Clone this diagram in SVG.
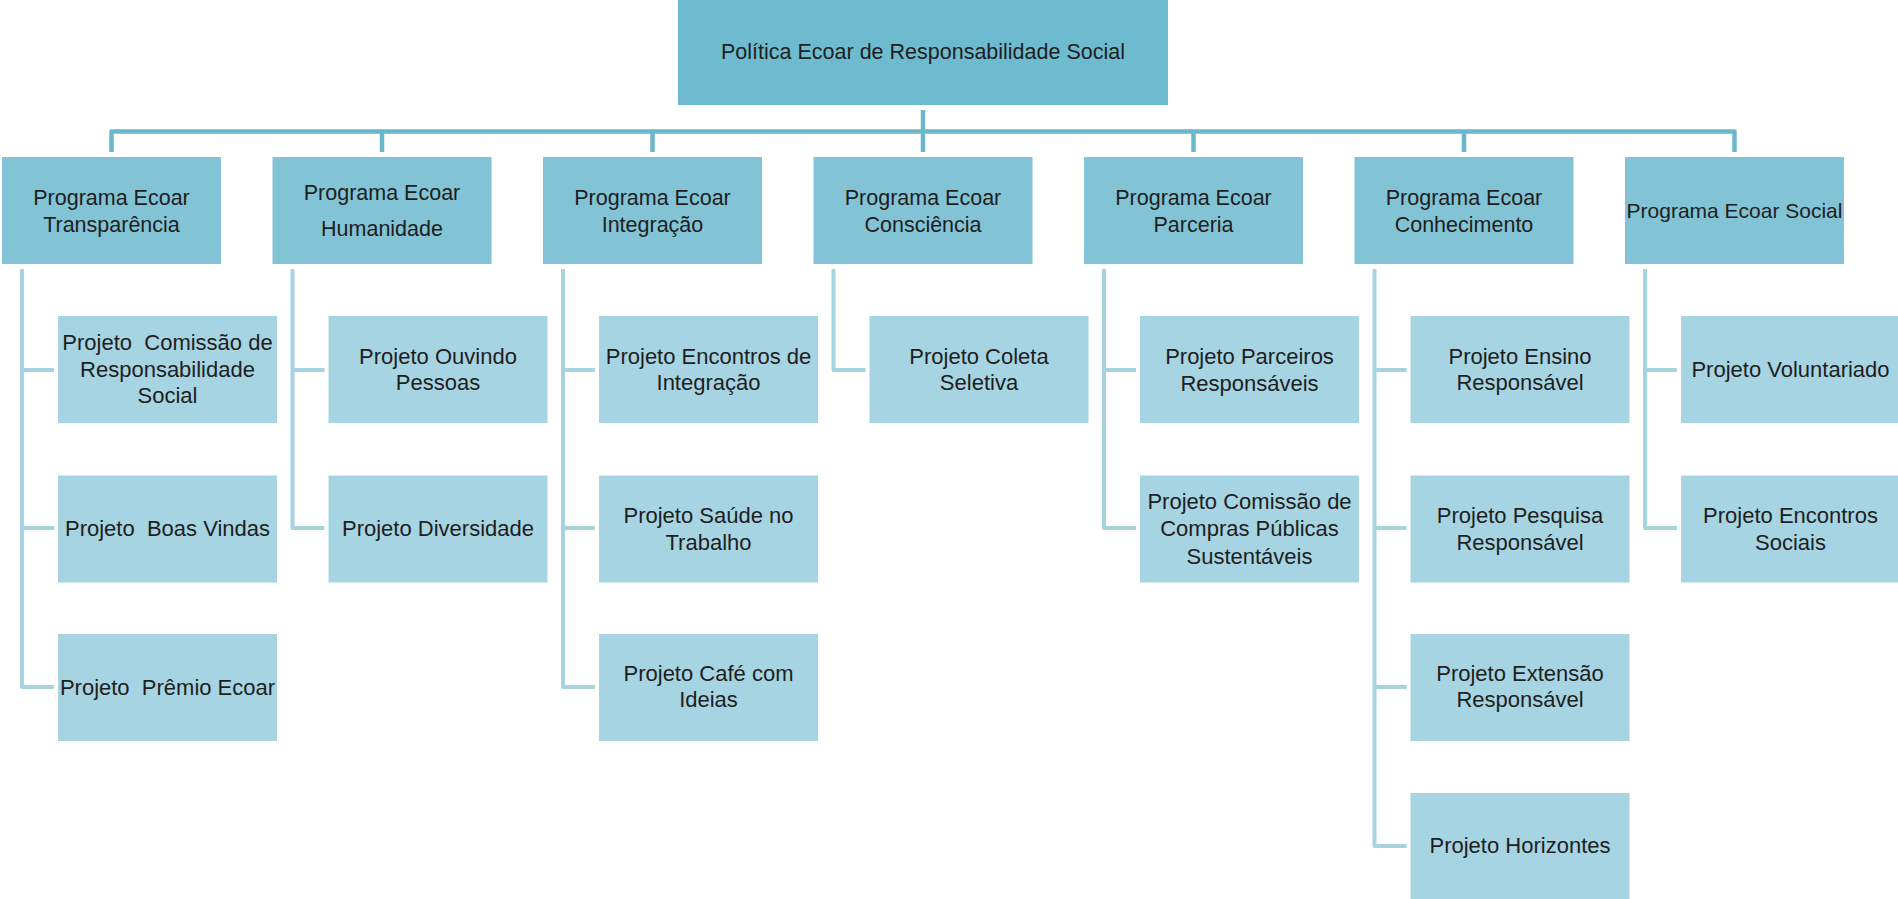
<svg xmlns="http://www.w3.org/2000/svg" width="1898" height="899" viewBox="0 0 1898 899">
<style>
.top{fill:#6ebbd0}
.prog{fill:#82c3d6}
.proj{fill:#a6d4e2}
text{font-family:"Liberation Sans",Arial,sans-serif;fill:#1e1e1e;text-anchor:middle}
.t20{font-size:21.5px}
.t20s{font-size:21px}
.t21{font-size:22px}
.bus{fill:none;stroke:#6cb6cc;stroke-width:4.5;stroke-linejoin:round}
.sub{fill:none;stroke:#a7d3e1;stroke-width:4;stroke-linejoin:round}
</style>
<rect width="1898" height="899" fill="#ffffff"/>
<g id="connectors">
<path class="bus" d="M111.5,152 V131.5 H1734.5 V152"/>
<path class="bus" d="M382,131.5 V152 M652.5,131.5 V152 M923,110 V152 M1193.5,131.5 V152 M1464,131.5 V152"/>
<path class="sub" d="M22,269 V687 H54 M22,370 H54 M22,528 H54"/>
<path class="sub" d="M292.5,269 V528 H324.5 M292.5,370 H324.5"/>
<path class="sub" d="M563,269 V687 H595 M563,370 H595 M563,528 H595"/>
<path class="sub" d="M833.5,269 V370 H865.5"/>
<path class="sub" d="M1104,269 V528 H1136 M1104,370 H1136"/>
<path class="sub" d="M1374.5,269 V846 H1406.5 M1374.5,370 H1406.5 M1374.5,528 H1406.5 M1374.5,687 H1406.5"/>
<path class="sub" d="M1645,269 V528 H1677 M1645,370 H1677"/>
</g>
<g id="politica">
<rect class="top" x="678" y="0" width="490" height="105"/>
<text class="t20" x="923" y="59">Política Ecoar de Responsabilidade Social</text>
</g>
<g id="prog-transparencia">
<rect class="prog" x="2" y="157" width="219" height="107"/>
<text class="t20" x="111.5" y="205">Programa Ecoar</text>
<text class="t20" x="111.5" y="232">Transparência</text>
</g>
<g id="prog-humanidade">
<rect class="prog" x="272.5" y="157" width="219" height="107"/>
<text class="t20" x="382" y="200">Programa Ecoar</text>
<text class="t20" x="382" y="236">Humanidade</text>
</g>
<g id="prog-integracao">
<rect class="prog" x="543" y="157" width="219" height="107"/>
<text class="t20" x="652.5" y="205">Programa Ecoar</text>
<text class="t20" x="652.5" y="232">Integração</text>
</g>
<g id="prog-consciencia">
<rect class="prog" x="813.5" y="157" width="219" height="107"/>
<text class="t20" x="923" y="205">Programa Ecoar</text>
<text class="t20" x="923" y="232">Consciência</text>
</g>
<g id="prog-parceria">
<rect class="prog" x="1084" y="157" width="219" height="107"/>
<text class="t20" x="1193.5" y="205">Programa Ecoar</text>
<text class="t20" x="1193.5" y="232">Parceria</text>
</g>
<g id="prog-conhecimento">
<rect class="prog" x="1354.5" y="157" width="219" height="107"/>
<text class="t20" x="1464" y="205">Programa Ecoar</text>
<text class="t20" x="1464" y="232">Conhecimento</text>
</g>
<g id="prog-social">
<rect class="prog" x="1625" y="157" width="219" height="107"/>
<text class="t20s" x="1734.5" y="218">Programa Ecoar Social</text>
</g>
<g id="proj-comissao-rs">
<rect class="proj" x="58" y="316" width="219" height="107"/>
<text class="t21" x="167.5" y="350" xml:space="preserve">Projeto  Comissão de</text>
<text class="t21" x="167.5" y="377">Responsabilidade</text>
<text class="t21" x="167.5" y="403">Social</text>
</g>
<g id="proj-boas-vindas">
<rect class="proj" x="58" y="475.5" width="219" height="107"/>
<text class="t21" x="167.5" y="536" xml:space="preserve">Projeto  Boas Vindas</text>
</g>
<g id="proj-premio">
<rect class="proj" x="58" y="634" width="219" height="107"/>
<text class="t21" x="167.5" y="695" xml:space="preserve">Projeto  Prêmio Ecoar</text>
</g>
<g id="proj-ouvindo">
<rect class="proj" x="328.5" y="316" width="219" height="107"/>
<text class="t21" x="438" y="364">Projeto Ouvindo</text>
<text class="t21" x="438" y="390">Pessoas</text>
</g>
<g id="proj-diversidade">
<rect class="proj" x="328.5" y="475.5" width="219" height="107"/>
<text class="t21" x="438" y="536">Projeto Diversidade</text>
</g>
<g id="proj-encontros-integracao">
<rect class="proj" x="599" y="316" width="219" height="107"/>
<text class="t21" x="708.5" y="364">Projeto Encontros de</text>
<text class="t21" x="708.5" y="390">Integração</text>
</g>
<g id="proj-saude">
<rect class="proj" x="599" y="475.5" width="219" height="107"/>
<text class="t21" x="708.5" y="523">Projeto Saúde no</text>
<text class="t21" x="708.5" y="550">Trabalho</text>
</g>
<g id="proj-cafe">
<rect class="proj" x="599" y="634" width="219" height="107"/>
<text class="t21" x="708.5" y="681">Projeto Café com</text>
<text class="t21" x="708.5" y="707">Ideias</text>
</g>
<g id="proj-coleta">
<rect class="proj" x="869.5" y="316" width="219" height="107"/>
<text class="t21" x="979" y="364">Projeto Coleta</text>
<text class="t21" x="979" y="390">Seletiva</text>
</g>
<g id="proj-parceiros">
<rect class="proj" x="1140" y="316" width="219" height="107"/>
<text class="t21" x="1249.5" y="364">Projeto Parceiros</text>
<text class="t21" x="1249.5" y="391">Responsáveis</text>
</g>
<g id="proj-compras">
<rect class="proj" x="1140" y="475.5" width="219" height="107"/>
<text class="t21" x="1249.5" y="509">Projeto Comissão de</text>
<text class="t21" x="1249.5" y="536">Compras Públicas</text>
<text class="t21" x="1249.5" y="564">Sustentáveis</text>
</g>
<g id="proj-ensino">
<rect class="proj" x="1410.5" y="316" width="219" height="107"/>
<text class="t21" x="1520" y="364">Projeto Ensino</text>
<text class="t21" x="1520" y="390">Responsável</text>
</g>
<g id="proj-pesquisa">
<rect class="proj" x="1410.5" y="475.5" width="219" height="107"/>
<text class="t21" x="1520" y="523">Projeto Pesquisa</text>
<text class="t21" x="1520" y="550">Responsável</text>
</g>
<g id="proj-extensao">
<rect class="proj" x="1410.5" y="634" width="219" height="107"/>
<text class="t21" x="1520" y="681">Projeto Extensão</text>
<text class="t21" x="1520" y="707">Responsável</text>
</g>
<g id="proj-horizontes">
<rect class="proj" x="1410.5" y="793" width="219" height="107"/>
<text class="t21" x="1520" y="853">Projeto Horizontes</text>
</g>
<g id="proj-voluntariado">
<rect class="proj" x="1681" y="316" width="219" height="107"/>
<text class="t21" x="1790.5" y="377">Projeto Voluntariado</text>
</g>
<g id="proj-encontros-sociais">
<rect class="proj" x="1681" y="475.5" width="219" height="107"/>
<text class="t21" x="1790.5" y="523">Projeto Encontros</text>
<text class="t21" x="1790.5" y="550">Sociais</text>
</g>
</svg>
